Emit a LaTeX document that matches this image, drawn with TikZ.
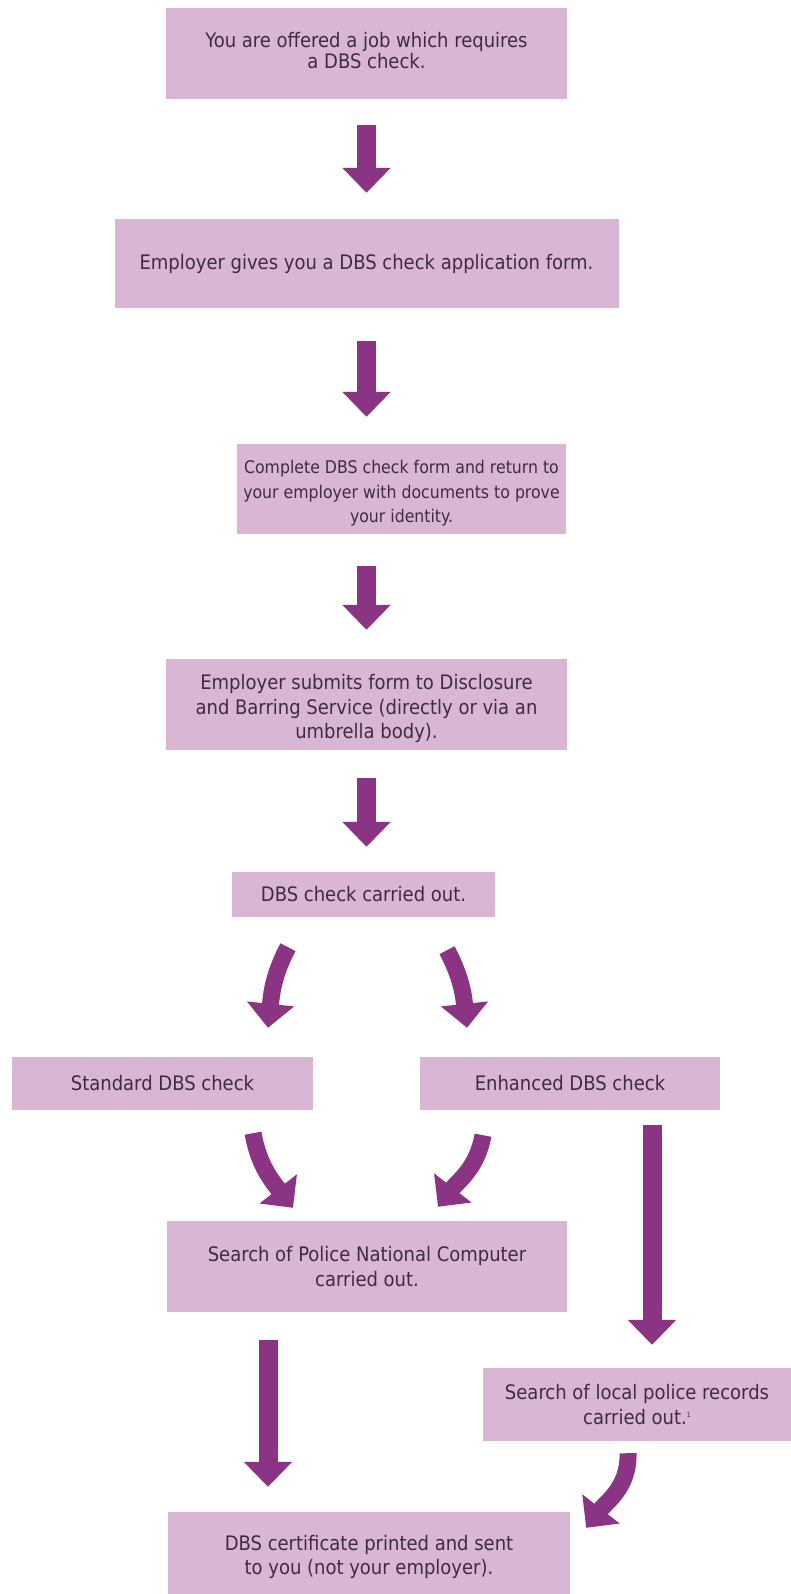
\documentclass[tikz,border=0pt]{standalone}
\usepackage{fontspec}
\setmainfont{DejaVu Sans Condensed}
\usepackage{tikz}
\usetikzlibrary{arrows.meta,positioning,shapes}
\definecolor{boxfill}{RGB}{217,183,212}
\definecolor{arrowpurple}{RGB}{138,52,131}
\definecolor{textdark}{RGB}{62,44,66}
\tikzstyle{block}=[fill=boxfill, rectangle, inner sep=0pt, align=center, text=textdark, font=\fontsize{20}{24.5}\selectfont]
\tikzstyle{flow}=[draw=arrowpurple, line width=19pt, -{Triangle[width=47pt,length=25pt]}]
\tikzstyle{bentflow}=[draw=arrowpurple, line width=17pt, -{Triangle[width=46pt,length=24pt]}]

\begin{document}
\begin{tikzpicture}[x=1pt, y=1pt]
    \useasboundingbox (0,0) rectangle (791,-1594);
    % main column
    \node [block, minimum width=401pt, minimum height=91pt, font=\fontsize{20}{20.5}\selectfont] (offer) at (366.5,-53.5) {You are offered a job which requires\\a DBS check.\rule[-6pt]{0pt}{0pt}};
    \node [block, minimum width=504pt, minimum height=89pt, below of=offer, node distance=210pt] (form) {Employer gives you a DBS check application form.};
    \node [block, minimum width=329pt, minimum height=90pt, below of=form, node distance=225.5pt, xshift=35pt, font=\fontsize{17.5}{24.5}\selectfont] (complete) {\rule{0pt}{22pt}Complete DBS check form and return to\\your employer with documents to prove\\your identity.};
    \node [block, minimum width=401pt, minimum height=91pt, below of=complete, node distance=215.5pt, xshift=-35pt] (submit) {\rule{0pt}{24pt}Employer submits form to Disclosure\\and Barring Service (directly or via an\\umbrella body).};
    \node [block, minimum width=263pt, minimum height=45pt, below of=submit, node distance=190pt, xshift=-3pt] (carried) {DBS check carried out.};
    % branches
    \node [block, minimum width=301pt, minimum height=53pt, below of=carried, node distance=189pt, xshift=-201pt] (standard) {Standard DBS check};
    \node [block, minimum width=300pt, minimum height=53pt, right of=standard, node distance=407.5pt] (enhanced) {Enhanced DBS check};
    \node [block, minimum width=400pt, minimum height=91pt, below of=carried, node distance=372pt, xshift=3.5pt] (pnc) {Search of Police National Computer\\carried out.};
    \node [block, minimum width=308pt, minimum height=73pt, below of=enhanced, node distance=321pt, xshift=67pt] (local) {Search of local police records\\carried out.\raisebox{7pt}{\fontsize{7}{7}\selectfont 1}};
    \node [block, minimum width=402pt, minimum height=90pt, below of=pnc, node distance=290.5pt, xshift=2pt] (cert) {DBS certificate printed and sent\\to you (not your employer).};

    \coordinate (enhtop) at ([xshift=82pt]enhanced.south);
    \coordinate (pnctop) at ([xshift=-99pt]pnc.south);

    % straight arrows
    \draw [flow, shorten <=26pt, shorten >=26pt] (offer.south) -- (form.north);
    \draw [flow, shorten <=33pt, shorten >=27pt] (form.south) -- (form.south |- complete.north);
    \draw [flow, shorten <=32pt, shorten >=29pt] (complete.south -| submit.south) -- (submit.north);
    \draw [flow, shorten <=28pt, shorten >=25pt] (submit.south) -- (submit.south |- carried.north);
    \draw [flow, shorten <=15pt, shorten >=23pt] (enhtop) -- (enhtop |- local.north);
    \draw [flow, shorten <=28pt, shorten >=25pt] (pnctop) -- (pnctop |- cert.north);

    % bent arrows
    \draw [bentflow] ([shift={(-75.5,-30)}]carried.south) to[out=-118, in=84] ([shift={(105.5,29)}]standard.north);
    \draw [bentflow] ([shift={(83.5,-33)}]carried.south) to[out=-62, in=96] ([shift={(-103,29)}]enhanced.north);
    \draw [bentflow] ([shift={(90.5,-23)}]standard.south) to[out=-80, in=128] ([shift={(-74,13)}]pnc.north);
    \draw [bentflow] ([shift={(-87,-25)}]enhanced.south) to[out=-100, in=52] ([shift={(71,14)}]pnc.north);
    \draw [bentflow] ([shift={(-9,-12)}]local.south) to[out=-88, in=52] ([shift={(16,-16)}]cert.north east);
\end{tikzpicture}
\end{document}
